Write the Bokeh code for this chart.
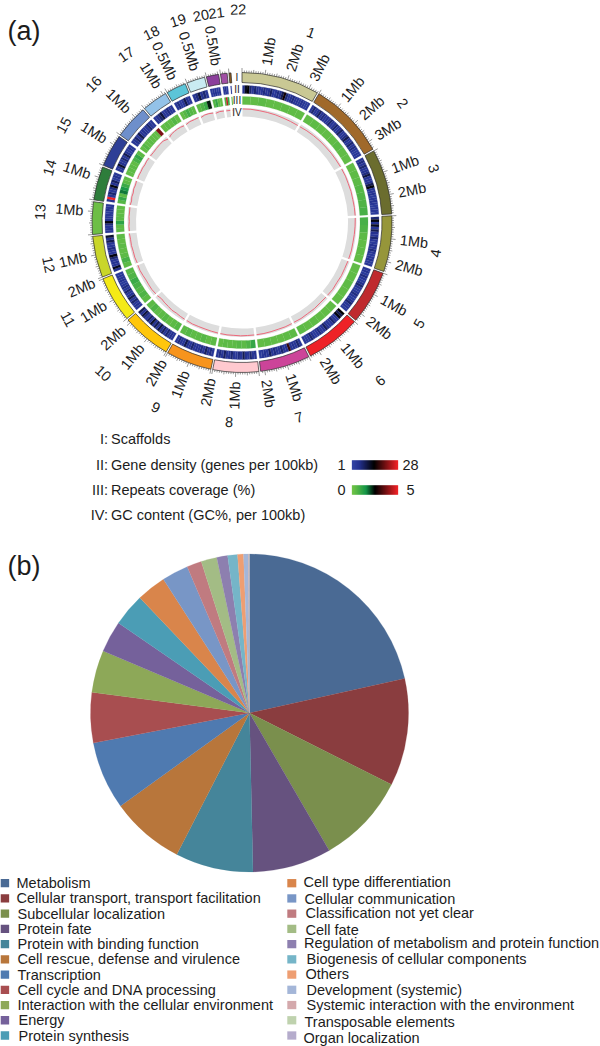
import math
import numpy as np
from bokeh.core.properties import value
from bokeh.embed import file_html
from bokeh.models import Range1d
from bokeh.plotting import figure
from bokeh.resources import INLINE

# ---------- data: panel (a) ----------
scaffold_names = [str(i) for i in range(1, 23)]
scaffold_mb = [3.4, 3.38, 2.85, 2.44, 2.36, 2.42, 2.18, 2.0, 2.0, 2.15, 2.01,
               1.81, 1.42, 1.47, 1.42, 1.47, 1.12, 0.87, 0.80, 0.54, 0.29, 0.09]
scaffold_colors = ["#C9C894", "#A0692A", "#6B6D2E", "#96963A", "#BF2A2E", "#EE2227",
                   "#CC4499", "#FFC9CF", "#F7941D", "#FFC60B", "#F4EA16", "#C9D62A",
                   "#6DBE45", "#2E7D3B", "#2E3F96", "#6E8FCB", "#93C2E8", "#5CC5D8",
                   "#C9EBF2", "#8B3F9B", "#A14FA5", "#8B5A1E"]
scale_labels = [["1Mb", "2Mb", "3Mb"], ["1Mb", "2Mb", "3Mb"], ["1Mb", "2Mb"], ["1Mb", "2Mb"],
                ["1Mb", "2Mb"], ["1Mb", "2Mb"], ["1Mb", "2Mb"], ["1Mb", "2Mb"], ["1Mb", "2Mb"],
                ["1Mb", "2Mb"], ["1Mb", "2Mb"], ["1Mb"], ["1Mb"], ["1Mb"], ["1Mb"], ["1Mb"],
                ["1Mb"], ["0.5Mb"], ["0.5Mb"], ["0.5Mb"], [], []]

density_1 = [5, 12, 14, 7, 4, 7, 5, 4, 4, 6, 4, 5, 8, 4, 4, 6, 5, 9, 15, 7, 4, 5, 6, 4, 4, 3, 5, 4, 3, 4]
density_2 = [4, 7, 4, 5, 8, 4, 6, 4, 5, 4, 7, 4, 4, 7, 4, 5, 8, 4, 4, 6, 9, 5, 4, 7, 4, 6, 4, 3, 4, 4]
density_3 = [4, 6, 4, 7, 4, 5, 6, 10, 4, 4, 5, 9, 13, 4, 4, 5, 3, 4, 5, 4, 3, 4, 4, 3]
density_4 = [7, 13, 5, 12, 4, 9, 5, 4, 7, 4, 3, 5, 4, 6, 4, 3, 4, 5, 3, 4]
density_5 = [4, 5, 3, 6, 4, 3, 5, 7, 4, 3, 4, 6, 4, 3, 5, 7, 4, 4, 3]
density_6 = [14, 9, 13, 4, 4, 7, 4, 4, 5, 8, 4, 3, 6, 4, 3, 5, 7, 4, 3, 4]
density_7 = [4, 7, 4, 5, 4, 17, 5, 4, 7, 4, 4, 6, 4, 8, 4, 5, 4, 3]
density_8 = [5, 4, 7, 4, 5, 9, 4, 6, 4, 4, 7, 5, 4, 8, 4, 6, 4]
density_9 = [4, 6, 5, 8, 4, 6, 4, 5, 4, 7, 4, 5, 9, 4, 4, 6, 4]
density_10 = [4, 5, 4, 7, 4, 8, 5, 10, 4, 9, 5, 11, 4, 8, 4, 6, 10, 5, 9]
density_11 = [4, 5, 4, 7, 4, 9, 5, 4, 7, 4, 6, 4, 3, 5, 4, 4, 3]
density_12 = [5, 12, 4, 5, 4, 7, 13, 4, 4, 6, 4, 4, 9, 5, 11]
density_13 = [4, 5, 4, 6, 13, 5, 4, 4, 3, 5, 4, 4]
density_14 = [5, 28, 4, 7, 4, 6, 13, 5, 8, 3, 5, 4]
density_15 = [4, 5, 11, 5, 4, 7, 4, 9, 5, 3, 5, 4]
density_16 = [4, 5, 7, 4, 9, 4, 5, 4, 4, 7, 4, 4]
density_17 = [4, 5, 7, 10, 4, 4, 6, 4, 4]
density_18 = [4, 6, 3, 4, 9, 5, 4]
density_19 = [4, 6, 10, 5, 7, 4]
density_20 = [3, 4, 5, 3, 4]
density_21 = [3, 5, 3]
density_22 = [3]
gene_density = [density_1, density_2, density_3, density_4, density_5, density_6, density_7, density_8,
                density_9, density_10, density_11, density_12, density_13, density_14, density_15,
                density_16, density_17, density_18, density_19, density_20, density_21, density_22]

repeats_1 = [0.3, 0.3, 0.4, 0.3, 0.3, 0.35, 0.3, 0.3]
repeats_2 = [0.3, 0.35, 0.3, 0.3, 0.3, 0.4, 0.3, 0.3]
repeats_3 = [0.3, 0.35, 0.4, 0.5, 0.55, 0.6, 0.7]
repeats_4 = [0.7, 0.6, 0.4, 0.3, 0.35, 0.3]
repeats_5 = [0.3, 0.3, 0.35, 0.3, 0.3]
repeats_6 = [0.3, 0.3, 0.3, 0.35, 0.3, 0.4]
repeats_7 = [0.4, 0.35, 0.3, 0.3, 0.35, 0.3]
repeats_8 = [1.0, 0.6, 0.4, 0.5, 0.4, 0.35, 0.4, 0.3]
repeats_9 = [0.4, 0.3, 0.5, 0.4, 0.35, 0.5, 0.4]
repeats_10 = [0.5, 0.4, 0.3, 0.5, 0.4, 0.35, 0.6, 0.4]
repeats_11 = [0.4, 0.6, 0.5, 0.7, 0.9, 0.6, 0.5]
repeats_12 = [0.4, 0.7, 0.4, 0.3, 0.4, 0.3, 0.35]
repeats_13 = [0.4, 0.35, 1.1, 0.4, 0.35, 0.3, 0.3]
repeats_14 = [0.5, 1.0, 0.4, 1.7, 1.4, 0.9, 0.4, 0.3]
repeats_15 = [0.3, 0.35, 0.4, 0.3, 0.7, 1.0, 0.4]
repeats_16 = [0.3, 0.5, 0.3, 0.4, 0.3, 0.3, 0.3, 3.8]
repeats_17 = [0.3, 0.4, 0.3, 0.5, 0.3]
repeats_18 = [0.3, 0.5, 0.8, 0.5, 0.4]
repeats_19 = [0.4, 0.6, 0.9, 2.3]
repeats_20 = [0.5, 1.0, 0.4, 0.3]
repeats_21 = [0.6, 4.6, 1.0]
repeats_22 = [0.5]
repeat_cov = [repeats_1, repeats_2, repeats_3, repeats_4, repeats_5, repeats_6, repeats_7, repeats_8,
              repeats_9, repeats_10, repeats_11, repeats_12, repeats_13, repeats_14, repeats_15,
              repeats_16, repeats_17, repeats_18, repeats_19, repeats_20, repeats_21, repeats_22]

gc_1 = [48, 48, 47, 46.5, 46, 45, 44.5, 44]
gc_2 = [44, 45, 45.5, 46, 46, 46.5, 46.5, 47]
gc_3 = [47, 47.5, 47, 47.5, 47, 47.5, 47.5]
gc_4 = [47.5, 47, 46.5, 46, 46.5, 46]
gc_5 = [46, 45.5, 46, 45, 46, 45]
gc_6 = [45, 44.5, 45.5, 45, 46, 45.5]
gc_7 = [46, 46.5, 46, 46.5, 47, 47]
gc_8 = [47, 47, 47.5, 47, 47.5, 47]
gc_9 = [47, 46.5, 46, 46, 46.5, 45.5]
gc_10 = [45.5, 45, 44, 45, 43.5, 43, 41.5, 44]
gc_11 = [44, 45, 44.5, 44, 45, 46, 45.5]
gc_12 = [45, 46, 45.5, 46.5, 46, 47]
gc_13 = [46.5, 47, 46, 47, 46.5, 47]
gc_14 = [47, 45.5, 47, 46, 47.5, 46.5, 47.5]
gc_15 = [47, 47.5, 47, 47.5, 46.5, 47.5, 47]
gc_16 = [47, 46.5, 47, 47.5, 47.5, 43]
gc_17 = [44, 47, 47.5, 48, 47.5, 46]
gc_18 = [46, 48, 47.5, 48]
gc_19 = [46, 48.5, 48.5, 47]
gc_20 = [45, 47, 46.5]
gc_21 = [46, 46]
gc_22 = [46, 46]
gc_content = [gc_1, gc_2, gc_3, gc_4, gc_5, gc_6, gc_7, gc_8, gc_9, gc_10, gc_11, gc_12, gc_13, gc_14,
              gc_15, gc_16, gc_17, gc_18, gc_19, gc_20, gc_21, gc_22]

# ---------- data: panel (b) ----------
categories = ["Metabolism", "Cellular transport, transport facilitation", "Subcellular localization",
              "Protein fate", "Protein with binding function", "Cell rescue, defense and virulence",
              "Transcription", "Cell cycle and DNA processing", "Interaction with the cellular environment",
              "Energy", "Protein synthesis", "Cell type differentiation", "Cellular communication",
              "Classification not yet clear", "Cell fate", "Regulation of metabolism and protein function",
              "Biogenesis of cellular components", "Others", "Development (systemic)",
              "Systemic interaction with the environment", "Transposable elements", "Organ localization"]
shares = [21.5, 10.9, 9.2, 8.0, 7.9, 7.5, 6.9, 5.1, 4.3, 3.2, 3.3, 3.0, 2.7, 1.5, 1.6, 1.1, 1.0, 0.6, 0.5,
          0.05, 0.03, 0.02]
pie_colors = ["#4A6A94", "#8A3D3F", "#7A8F4D", "#66527F", "#45859A", "#B8763B", "#4F7AB0", "#A84E50",
              "#8DA858", "#75619B", "#4B9DB5", "#D9854B", "#7896C6", "#C07B80", "#A3BC85", "#8D7FAF",
              "#75B5C8", "#EE9E72", "#A4B6D8", "#D4A9AC", "#BFD2AE", "#B5ACCC"]

# ---------- layout ----------
FONT = value("Liberation Sans")
INK = "#1c1c1c"
CX, CY = 241.5, 222.0
PCX, PCY, PR = 249.0, 712.5, 159.0
GAP = 0.7


def polar(a, r):
    t = math.radians(a)
    return CX + r * math.sin(t), -(CY - r * math.cos(t))


def mix(stops, v):
    for (v0, c0), (v1, c1) in zip(stops, stops[1:]):
        if v <= v1:
            t = max(0.0, (v - v0) / (v1 - v0))
            return "#%02X%02X%02X" % tuple(round(a + (b - a) * t) for a, b in zip(c0, c1))
    return "#%02X%02X%02X" % stops[-1][1]


gene_stops = [(1, (50, 68, 165)), (5, (36, 50, 145)), (14, (0, 0, 0)), (28, (238, 34, 39))]
rep_stops = [(0, (112, 194, 72)), (0.4, (92, 186, 70)), (1.5, (20, 150, 72)), (2.5, (0, 0, 0)), (5, (238, 34, 39))]

p = figure(width=600, height=1046, output_backend="svg", toolbar_location=None,
           x_range=Range1d(0, 600), y_range=Range1d(-1046, 0), min_border=0,
           background_fill_color="white", border_fill_color="white", outline_line_color=None)
p.axis.visible = False
p.grid.visible = False
p.styles = {"margin": "0px"}

unit = (355.8 - GAP * 21) / sum(scaffold_mb)
starts, ends = [], []
a = 0.0
for mb in scaffold_mb:
    starts.append(a)
    ends.append(a + mb * unit)
    a = ends[-1] + GAP


def ring(a0, a1, r0, r1, colors, **kw):
    p.annular_wedge(x=CX, y=-CY, inner_radius=r0, outer_radius=r1,
                    start_angle=[90 - v for v in a0], end_angle=[90 - v for v in a1],
                    start_angle_units="deg", end_angle_units="deg", direction="clock",
                    fill_color=colors, **kw)


# ring I
ring(starts, ends, 140, 150, scaffold_colors, line_color="#2a2a2a", line_width=0.7)
# ticks
tx0, ty0, tx1, ty1 = [], [], [], []
for s, mb in zip(starts, scaffold_mb):
    for k in range(int(mb * 10) + 1):
        ang = s + k * 0.1 * unit
        tip = 154.5 if k % 10 == 0 else (153 if k % 5 == 0 else 152)
        x0, y0 = polar(ang, 150)
        x1, y1 = polar(ang, tip)
        tx0.append(x0); ty0.append(y0); tx1.append(x1); ty1.append(y1)
p.segment(tx0, ty0, tx1, ty1, line_color="#333333", line_width=0.5)

# rings II, III
for data, stops, r0, r1 in ((gene_density, gene_stops, 129, 137), (repeat_cov, rep_stops, 118, 126)):
    a0, a1, cols = [], [], []
    for s, e, vals in zip(starts, ends, data):
        s2, e2 = s + 0.2, max(e - 0.2, s + 0.35)
        step = (e2 - s2) / len(vals)
        for i, v in enumerate(vals):
            a0.append(s2 + i * step)
            a1.append(s2 + (i + 1) * step)
            cols.append(mix(stops, v))
    ring(a0, a1, r0, r1, cols, line_color=cols, line_width=0.2)

# ring IV
ring([s + 0.25 for s in starts], [max(e - 0.25, s + 0.4) for s, e in zip(starts, ends)], 106, 114.5,
     ["#DDDDDD"] * len(starts), line_color=None)
gx, gy = [], []
for s, e, vals in zip(starts, ends, gc_content):
    step = (e - s - 0.5) / (len(vals) - 1)
    xs, ys = [], []
    for i, v in enumerate(vals):
        x, y = polar(s + 0.25 + i * step, 106 + (v - 30) * 0.42)
        xs.append(x); ys.append(y)
    gx.append(xs); gy.append(ys)
p.multi_line(gx, gy, line_color="#EE5A6E", line_width=0.9)

# scale labels
sx, sy, st, sa, sal = [], [], [], [], []
for s, labels in zip(starts, scale_labels):
    for lab in labels:
        mb = float(lab[:-2])
        ang = s + mb * unit
        x, y = polar(ang, 159)
        sx.append(x); sy.append(y); st.append(lab)
        if ang < 180:
            sa.append(math.radians(90 - ang)); sal.append("left")
        else:
            sa.append(math.radians(270 - ang)); sal.append("right")
p.text(x=sx, y=sy, text=st, angle=sa, text_align=sal, text_baseline="middle", text_font=FONT,
       text_font_size="14.5px", text_color=INK)

# scaffold numbers (angle and radius)
name_angle = [20, 53.4, 74.3, 99, 119.7, 138.8, 163.7, 183.7, 205, 222.6, 241, 257.7, 273, 285.9, 298.6, 313,
              325.4, 334.4, 342.4, 348.8, 353, 359]
name_radius = [202, 200, 199, 196, 204, 210, 203, 200, 204, 205, 199, 198, 202, 200, 203, 203, 204, 210, 212,
               211, 211, 213]
nx, ny, na = [], [], []
for ang, r in zip(name_angle, name_radius):
    x, y = polar(ang, r)
    nx.append(x); ny.append(y)
    if ang < 90:
        na.append(math.radians(-ang))
    elif ang < 270:
        na.append(math.radians(180 - ang))
    else:
        na.append(math.radians(360 - ang))
p.text(x=nx, y=ny, text=scaffold_names, angle=na, text_align="center", text_baseline="middle",
       text_font=FONT, text_font_size="14.5px", text_color=INK)

# ring numerals
p.text(x=[236.5, 236.5, 236.5, 236.5], y=[-77, -89, -100, -112], text=["I", "II", "III", "IV"],
       text_align="center", text_baseline="middle", text_font=FONT, text_font_size="10px", text_color=INK)

# panel letters
p.text(x=[7, 7], y=[-30, -565], text=["(a)", "(b)"], text_align="left", text_baseline="middle",
       text_font=FONT, text_font_size="27px", text_color=INK)

# track legend
track_no = ["I:", "II:", "III:", "IV:"]
track_text = ["Scaffolds", "Gene density (genes per 100kb)", "Repeats coverage (%)", "GC content (GC%, per 100kb)"]
track_y = [-438, -464, -489, -514]
p.text(x=[107.5] * 4, y=track_y, text=track_no, text_align="right", text_baseline="middle", text_font=FONT,
       text_font_size="14.5px", text_color=INK)
p.text(x=[110.5] * 4, y=track_y, text=track_text, text_align="left", text_baseline="middle", text_font=FONT,
       text_font_size="14.5px", text_color=INK)

for stops, lo, hi, yc, vlo, vhi in ((gene_stops, 1, 28, -464.5, "1", "28"), (rep_stops, 0, 5, -489.5, "0", "5")):
    vals = np.linspace(lo, hi, 46)
    bar_x = 352 + (vals - lo) / (hi - lo) * 45
    p.rect(x=bar_x, y=yc, width=1.3, height=9.5, fill_color=[mix(stops, float(v)) for v in vals], line_color=None)
    p.text(x=[341, 410], y=[yc, yc], text=[vlo, vhi], text_align="center", text_baseline="middle",
           text_font=FONT, text_font_size="14.5px", text_color=INK)

# pie
total = sum(shares)
cum = np.cumsum([0] + shares) / total * 360
p.wedge(x=PCX, y=-PCY, radius=PR, start_angle=[90 - v for v in cum[:-1]], end_angle=[90 - v for v in cum[1:]],
        start_angle_units="deg", end_angle_units="deg", direction="clock", fill_color=pie_colors,
        line_color=pie_colors, line_width=0.2)

# pie legend
left_x = [16, 16, 17, 17, 17, 17, 17, 17, 17, 18, 18]
right_x = [303, 304, 305, 305, 303.5, 306, 305, 306, 306, 304, 303]
right_nudge = [-1, 1, -1, 1, -1, 0, -1, 0, 0, 2, 2]
rows = [882.7 + 15.23 * i for i in range(11)]
p.rect(x=[4.3] * 11, y=[-r for r in rows], width=8.7, height=8.3, fill_color=pie_colors[:11], line_color=None)
p.rect(x=[291.3] * 11, y=[-r for r in rows], width=9, height=8.3, fill_color=pie_colors[11:], line_color=None)
p.text(x=left_x, y=[-r for r in rows], text=categories[:11], text_align="left", text_baseline="middle",
       text_font=FONT, text_font_size="14.5px", text_color=INK)
p.text(x=right_x, y=[-(r + n) for r, n in zip(rows, right_nudge)], text=categories[11:], text_align="left",
       text_baseline="middle", text_font=FONT, text_font_size="14.5px", text_color=INK)

open("out.html", "w").write(file_html(p, INLINE))
